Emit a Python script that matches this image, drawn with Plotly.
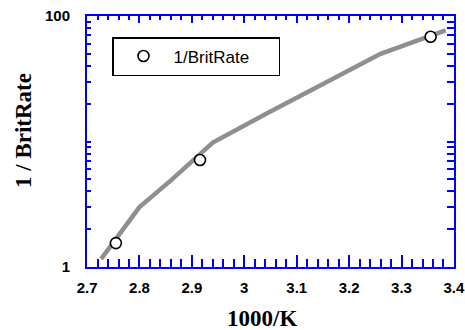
import plotly.graph_objects as go

# Fitted curve (gray line)
line_x = [2.727, 2.80, 2.86, 2.94, 3.04, 3.26, 3.384]
line_y = [1.16, 3.0, 4.9, 9.8, 16.5, 50.0, 77.0]

# Measured points
pts_x = [2.755, 2.9155, 3.3555]
pts_y = [1.55, 7.12, 68.4]
series_name = "1/BritRate"

x_title = "1000/K"
y_title = "1 / BritRate"

x_range = [2.6999, 3.4001]
y_range_log = [0, 2.0001]

BLUE = "#0000ff"
tickfont = dict(family="Liberation Sans, Arial", size=15, color="black", weight="bold")
titlefont = dict(family="Liberation Serif, Times New Roman", size=23, color="black", weight="bold")


def xaxis_common(major_len, minor_len):
    # automatic major ticks (nticks=8 -> step 0.1), minor every 0.02
    return dict(range=x_range, nticks=8,
                showgrid=False,
                showline=True, linecolor=BLUE, linewidth=2,
                ticks="inside", ticklen=major_len, tickwidth=2, tickcolor=BLUE,
                minor=dict(ticks="inside", dtick=0.02, ticklen=minor_len,
                           tickwidth=2, tickcolor=BLUE))


def yaxis_common(major_len, minor_len):
    # automatic major ticks (nticks=2 -> one per decade), minor at 2..9
    return dict(type="log", range=y_range_log, nticks=2,
                showgrid=False,
                showline=True, linecolor=BLUE, linewidth=2,
                ticks="inside", ticklen=major_len, tickwidth=2, tickcolor=BLUE,
                minor=dict(ticks="inside", dtick="D1", ticklen=minor_len,
                           tickwidth=2, tickcolor=BLUE))


fig = go.Figure()
fig.add_trace(go.Scatter(x=line_x, y=line_y, mode="lines",
                         line=dict(color="#8f8f8f", width=4.5),
                         showlegend=False,
                         xaxis="x", yaxis="y"))
fig.add_trace(go.Scatter(x=pts_x, y=pts_y, mode="markers", name=series_name,
                         marker=dict(symbol="circle", size=11, color="white",
                                     line=dict(color="black", width=1.6)),
                         xaxis="x2", yaxis="y2"))

xa = xaxis_common(12, 8)
xa.update(tickfont=tickfont, ticklabelstandoff=6, ticklabeloverflow="allow")
ya = yaxis_common(7, 4)
ya.update(tickfont=tickfont, ticklabelstandoff=12)
xa2 = xaxis_common(7, 4)
xa2.update(overlaying="x", side="top", anchor="y2", showticklabels=False)
ya2 = yaxis_common(9, 7)
ya2.update(overlaying="y", side="right", anchor="x2", showticklabels=False)

fig.update_layout(
    template="none",
    width=465, height=330,
    margin=dict(l=87, r=11, t=16, b=63),
    xaxis=xa, yaxis=ya, xaxis2=xa2, yaxis2=ya2,
    annotations=[
        dict(text=x_title, xref="paper", yref="paper", x=(262 - 87) / 367,
             y=(267 - 318) / 251, xanchor="center", yanchor="middle",
             showarrow=False, font=titlefont),
        dict(text=y_title, xref="paper", yref="paper", x=(23 - 87) / 367,
             y=(267 - 131) / 251, xanchor="center", yanchor="middle",
             textangle=-90, showarrow=False, font=titlefont),
    ],
    legend=dict(x=(112 - 87) / 367, y=1 - (37 - 16) / 251, xanchor="left", yanchor="top",
                orientation="h",
                bgcolor="white", bordercolor="black", borderwidth=1.5,
                font=dict(family="Liberation Sans, Arial", size=17, color="black"),
                itemwidth=50, entrywidth=100, entrywidthmode="pixels"),
)

fig.write_html("out.html")
